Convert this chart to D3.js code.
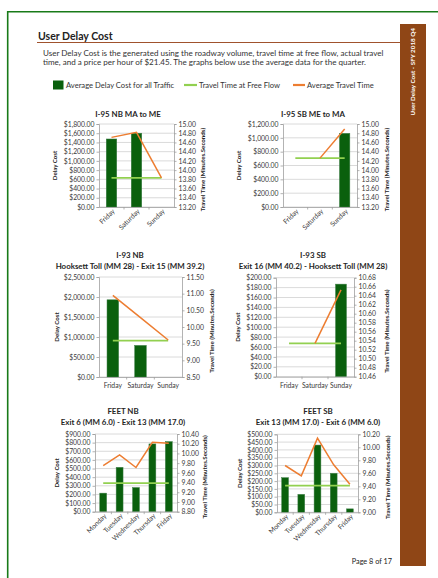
<!DOCTYPE html>
<html><head><meta charset="utf-8">
<script src="https://cdn.jsdelivr.net/npm/d3@7"></script>
<style>
html,body{margin:0;padding:0;background:#fff;}
svg{display:block;font-family:Lato, "Open Sans", sans-serif;}
</style></head>
<body>
<svg id="page" width="438" height="578"></svg>
<script>
// ---------- DATA ----------
const weekend = ["Friday", "Saturday", "Sunday"];
const weekdays = ["Monday", "Tuesday", "Wednesday", "Thursday", "Friday"];

const legendLabels = ["Average Delay Cost for all Traffic", "Travel Time at Free Flow", "Average Travel Time"];

const titleI95NB = ["I-95 NB MA to ME"];
const costI95NB = [1475, 1600, 0];
const travelI95NB = [14.71, 14.82, 13.83];
const freeI95NB = 13.83;
const leftTicksI95NB = [0, 200, 400, 600, 800, 1000, 1200, 1400, 1600, 1800];
const rightTicksI95NB = [13.2, 13.4, 13.6, 13.8, 14.0, 14.2, 14.4, 14.6, 14.8, 15.0];

const titleI95SB = ["I-95 SB ME to MA"];
const costI95SB = [0, 0, 1065];
const travelI95SB = [null, 14.26, 14.89];
const freeI95SB = 14.26;
const leftTicksI95SB = [0, 200, 400, 600, 800, 1000, 1200];
const rightTicksI95SB = [13.2, 13.4, 13.6, 13.8, 14.0, 14.2, 14.4, 14.6, 14.8, 15.0];

const titleI93NB = ["I-93 NB", "Hooksett Toll (MM 28) - Exit 15 (MM 39.2)"];
const costI93NB = [1930, 790, 0];
const travelI93NB = [10.95, 10.28, 9.61];
const freeI93NB = 9.59;
const leftTicksI93NB = [0, 500, 1000, 1500, 2000, 2500];
const rightTicksI93NB = [8.5, 9.0, 9.5, 10.0, 10.5, 11.0, 11.5];

const titleI93SB = ["I-93 SB", "Exit 16 (MM 40.2) - Hooksett Toll (MM 28)"];
const costI93SB = [0, 0, 187];
const travelI93SB = [null, 10.534, 10.653];
const freeI93SB = 10.534;
const leftTicksI93SB = [0, 20, 40, 60, 80, 100, 120, 140, 160, 180, 200];
const rightTicksI93SB = [10.46, 10.48, 10.50, 10.52, 10.54, 10.56, 10.58, 10.60, 10.62, 10.64, 10.66, 10.68];

const titleFEETNB = ["FEET NB", "Exit 6 (MM 6.0) - Exit 13 (MM 17.0)"];
const costFEETNB = [215, 514, 280, 785, 812];
const travelFEETNB = [9.75, 9.97, 9.71, 10.23, 10.21];
const freeFEETNB = 9.39;
const leftTicksFEETNB = [0, 100, 200, 300, 400, 500, 600, 700, 800, 900];
const rightTicksFEETNB = [8.8, 9.0, 9.2, 9.4, 9.6, 9.8, 10.0, 10.2, 10.4];

const titleFEETSB = ["FEET SB", "Exit 13 (MM 17.0) - Exit 6 (MM 6.0)"];
const costFEETSB = [222, 115, 431, 250, 22];
const travelFEETSB = [9.72, 9.56, 10.14, 9.73, 9.43];
const freeFEETSB = 9.41;
const leftTicksFEETSB = [0, 50, 100, 150, 200, 250, 300, 350, 400, 450, 500];
const rightTicksFEETSB = [9.0, 9.2, 9.4, 9.6, 9.8, 10.0, 10.2];

// ---------- LAYOUT / STYLE ----------
const C = {
  bar: "#0a600d", barStroke: "#3f7f48", orange: "#ed7d31", lime: "#92d050",
  grid: "#d0d0d0", axis: "#a0a0a0", text: "#3a3a3a", brown: "#8f4616"
};
const svg = d3.select("#page");

// page frame
svg.append("path").attr("d", "M7.7,600 V11.8 H460").attr("fill", "none").attr("stroke", "#187a18").attr("stroke-width", 1.6);
// sidebar
svg.append("rect").attr("x", 400).attr("y", 24).attr("width", 26).attr("height", 542).attr("fill", C.brown);
svg.append("text").attr("transform", "translate(413,28) rotate(-90)").attr("text-anchor", "end").attr("dy", "0.35em")
  .attr("fill", "#fff").attr("font-size", 6.3).attr("font-weight", "bold").text("User Delay Cost - SFY 2018 Q4");

// heading
svg.append("text").attr("x", 38).attr("y", 40).attr("font-size", 10.5).attr("font-weight", "bold").attr("fill", "#222").text("User Delay Cost");
svg.append("line").attr("x1", 37).attr("x2", 400).attr("y1", 42.5).attr("y2", 42.5).attr("stroke", "#a0522d").attr("stroke-width", 1.2);
const para = ["User Delay Cost is the generated using the roadway volume, travel time at free flow, actual travel",
  "time, and a price per hour of $21.45. The graphs below use the average data for the quarter."];
para.forEach((t, i) => svg.append("text").attr("x", 43).attr("y", 55.5 + i * 9.6).attr("font-size", 8.05).attr("fill", "#333").text(t));

// legend
const lg = svg.append("g").attr("font-size", 7.6).attr("fill", "#333");
lg.append("rect").attr("x", 53).attr("y", 80.5).attr("width", 10.5).attr("height", 9).attr("fill", C.bar);
lg.append("text").attr("x", 66).attr("y", 88).text(legendLabels[0]);
lg.append("line").attr("x1", 184).attr("x2", 197).attr("y1", 85).attr("y2", 85).attr("stroke", C.lime).attr("stroke-width", 2.2);
lg.append("text").attr("x", 199).attr("y", 88).text(legendLabels[1]);
lg.append("line").attr("x1", 293).attr("x2", 305).attr("y1", 85).attr("y2", 85).attr("stroke", C.orange).attr("stroke-width", 2.2);
lg.append("text").attr("x", 307).attr("y", 88).text(legendLabels[2]);

// footer
svg.append("text").attr("x", 392).attr("y", 564).attr("text-anchor", "end").attr("font-size", 7.3).attr("fill", "#222").text("Page 8 of 17");

const charts = [
  {titles: titleI95NB, cats: weekend, cost: costI95NB, travel: travelI95NB, free: freeI95NB, lt: leftTicksI95NB, rt: rightTicksI95NB,
   box: [99, 174, 124, 207], tx: 128, ty: [117], dx: 55, rx: 203, rotate: true},
  {titles: titleI95SB, cats: weekend, cost: costI95SB, travel: travelI95SB, free: freeI95SB, lt: leftTicksI95SB, rt: rightTicksI95SB,
   box: [283, 357, 124, 207], tx: 313, ty: [117], dx: 239, rx: 387, rotate: true},
  {titles: titleI93NB, cats: weekend, cost: costI93NB, travel: travelI93NB, free: freeI93NB, lt: leftTicksI93NB, rt: rightTicksI93NB,
   box: [99, 182, 277, 377], tx: 130, ty: [258, 269], dx: 57, rx: 212, rotate: false},
  {titles: titleI93SB, cats: weekend, cost: costI93SB, travel: travelI93SB, free: freeI93SB, lt: leftTicksI93SB, rt: rightTicksI93SB,
   box: [276, 354, 277.7, 376.7], tx: 313, ty: [258, 269], dx: 238, rx: 387, rotate: false},
  {titles: titleFEETNB, cats: weekdays, cost: costFEETNB, travel: travelFEETNB, free: freeFEETNB, lt: leftTicksFEETNB, rt: rightTicksFEETNB,
   box: [95, 177, 434, 511.7], tx: 123, ty: [414, 425], dx: 57, rx: 205, rotate: true},
  {titles: titleFEETSB, cats: weekdays, cost: costFEETSB, travel: travelFEETSB, free: freeFEETSB, lt: leftTicksFEETSB, rt: rightTicksFEETSB,
   box: [277, 358, 434.3, 512.3], tx: 318, ty: [414, 425], dx: 240, rx: 388, rotate: true}
];

charts.forEach(ch => {
  const [x0, x1, y0, y1] = ch.box;
  const g = svg.append("g");
  const x = d3.scaleBand().domain(ch.cats).range([x0, x1]);
  const yL = d3.scaleLinear().domain([ch.lt[0], ch.lt[ch.lt.length - 1]]).range([y1, y0]);
  const yR = d3.scaleLinear().domain([ch.rt[0], ch.rt[ch.rt.length - 1]]).range([y1, y0]);

  // titles
  ch.titles.forEach((t, i) => g.append("text").attr("x", ch.tx).attr("y", ch.ty[i]).attr("text-anchor", "middle")
    .attr("font-size", 7.9).attr("font-weight", "bold").attr("fill", "#262626").text(t));

  // gridlines
  g.append("g").selectAll("line").data(ch.lt).join("line")
    .attr("x1", x0).attr("x2", x1).attr("y1", d => yL(d)).attr("y2", d => yL(d))
    .attr("stroke", C.grid).attr("stroke-width", 0.8);

  // bars
  const bw = x.bandwidth() * 0.42;
  g.append("g").selectAll("rect").data(ch.cats.map((c, i) => ({c, v: ch.cost[i]})).filter(d => d.v > 0)).join("rect")
    .attr("x", d => x(d.c) + (x.bandwidth() - bw) / 2).attr("width", bw)
    .attr("y", d => yL(d.v)).attr("height", d => y1 - yL(d.v))
    .attr("fill", C.bar).attr("stroke", C.barStroke).attr("stroke-width", 0.5);

  // free flow line
  const cx = c => x(c) + x.bandwidth() / 2;
  g.append("path").attr("d", d3.line()([[cx(ch.cats[0]), yR(ch.free)], [cx(ch.cats[ch.cats.length - 1]), yR(ch.free)]]))
    .attr("stroke", C.lime).attr("stroke-width", 1.8).attr("fill", "none");
  // average travel time
  const pts = ch.cats.map((c, i) => ({c, v: ch.travel[i]}));
  g.append("path").datum(pts)
    .attr("d", d3.line().defined(d => d.v != null).x(d => cx(d.c)).y(d => yR(d.v)))
    .attr("stroke", C.orange).attr("stroke-width", 1.5).attr("fill", "none");

  // axes
  const fmtL = d3.format("$,.2f"), fmtR = d3.format(".2f");
  const aL = g.append("g").attr("transform", `translate(${x0},0)`)
    .call(d3.axisLeft(yL).tickValues(ch.lt).tickFormat(fmtL).tickSize(2.5).tickPadding(2));
  const aR = g.append("g").attr("transform", `translate(${x1},0)`)
    .call(d3.axisRight(yR).tickValues(ch.rt).tickFormat(fmtR).tickSize(2.5).tickPadding(2));
  const aB = g.append("g").attr("transform", `translate(0,${y1})`)
    .call(d3.axisBottom(x).tickSize(0).tickPadding(ch.rotate ? 4 : 6));
  [aL, aR, aB].forEach(a => {
    a.selectAll("path.domain").attr("stroke", C.axis).attr("stroke-width", 0.8);
    a.selectAll(".tick line").attr("stroke", C.axis).attr("stroke-width", 0.8);
    a.selectAll("text").attr("fill", C.text).attr("font-family", "Lato, sans-serif").attr("font-size", 6.8);
  });
  // category boundary tick marks
  g.append("g").selectAll("line").data(ch.cats.slice(1)).join("line")
    .attr("x1", d => x(d)).attr("x2", d => x(d)).attr("y1", y1).attr("y2", y1 + 2.5)
    .attr("stroke", C.axis).attr("stroke-width", 0.8);
  if (ch.rotate) {
    aB.selectAll(".tick text").attr("text-anchor", "end").attr("dy", "0.35em")
      .attr("transform", "translate(2,3) rotate(-45)").attr("y", 0).attr("x", 0);
  }
  // axis titles
  g.append("text").attr("transform", `translate(${ch.dx},${(y0 + y1) / 2}) rotate(-90)`).attr("text-anchor", "middle").attr("dy", "0.35em")
    .attr("font-size", 6.1).attr("font-weight", "bold").attr("fill", "#262626").text("Delay Cost");
  g.append("text").attr("transform", `translate(${ch.rx},${(y0 + y1) / 2 + 4}) rotate(-90)`).attr("text-anchor", "middle").attr("dy", "0.35em")
    .attr("font-size", 6.2).attr("font-weight", "bold").attr("fill", "#262626").text("Travel Time (Minutes.Seconds)");
});
</script>
</body></html>
